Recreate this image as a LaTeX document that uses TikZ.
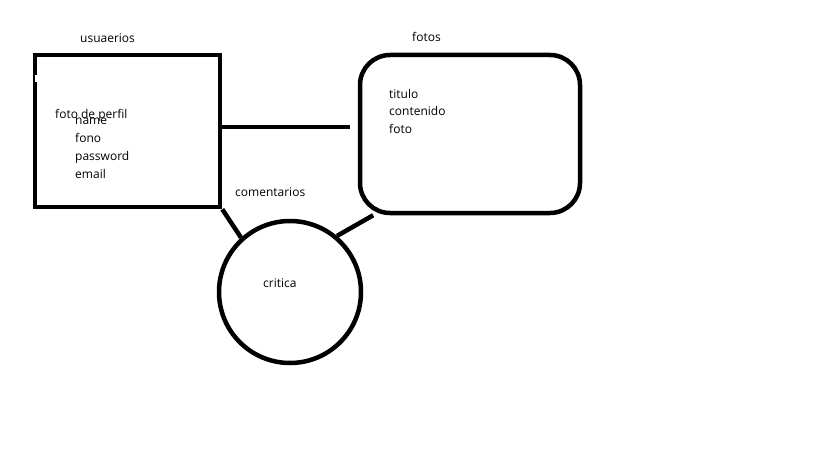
\documentclass[tikz,border=0pt]{standalone}
\usepackage{fontspec}
\setmainfont{Open Sans}
\usetikzlibrary{calc}

\begin{document}
\begin{tikzpicture}[x=1pt, y=-1pt,
    box/.style={draw, line width=4.5pt, minimum width=#1},
    txt/.style={font=\fontsize{12}{18}\selectfont, inner sep=0pt, anchor=base west},
    link/.style={line width=4.5pt}]
    \fill [white] (0,0) rectangle (819,460);
    \useasboundingbox (0,0) rectangle (819,460);

    % entities
    \node [box=185pt, minimum height=152pt] (usuarios) at (127.5,131) {};
    \node [box=220pt, minimum height=158pt, rounded corners=30pt] (fotos) at (470,134) {};
    \node [box=142pt, circle] (critica) at (290,292) {};
    \fill [white] (35,75) rectangle (37.4,82);

    % labels
    \node [txt] (lblusuarios) at (80,43) {usuaerios};
    \node [txt] (lblfotos) at (412,42) {fotos};
    \node [txt] (lblcoment) at (235,196) {comentarios};
    \node [txt] (lblcritica) at (263,287) {critica};
    \node [txt] (perfil) at (55,118.5) {foto de perfil};
    \foreach \t [count=\i] in {name,fono,password,email}
        \node [txt] (u\i) at (75,{106+18*\i}) {\t};
    \foreach \t [count=\i] in {titulo,contenido,foto}
        \node [txt] (f\i) at (389,{80.5+17.5*\i}) {\t};

    % relations
    \coordinate (gap) at (350,127);
    \draw [link] (usuarios.east |- gap) -- (gap);
    \draw [link] (usuarios.south east) -- (critica.132);
    \draw [link] (critica.50) -- (fotos.220);
\end{tikzpicture}
\end{document}
